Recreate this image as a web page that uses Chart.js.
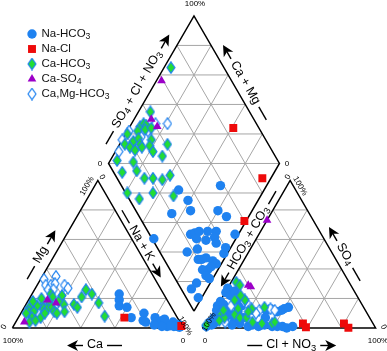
<!DOCTYPE html>
<html>
<head>
<meta charset="utf-8">
<script src="https://cdn.jsdelivr.net/npm/chart.js@4.4.0/dist/chart.umd.min.js"></script>
<style>
  html, body { margin: 0; padding: 0; background: #fff; }
  #wrap { width: 387px; height: 351px; }
</style>
</head>
<body>
<div id="wrap"><canvas id="piper" width="387" height="351"></canvas></div>
<script>
// cation triangle: [Ca %, Mg %]  (Na + K is the rest)
const cationNaHCO3 = [[26,23],[28,19],[30,15],[26,14],[27,7],[18,10],[21,5],[20,4],[13,7],[14,4],[10,5],[9,3],[6,2],[3.5,2],[3,1],[4,4],[9,1],[1.5,2.4],[8,6],[5,1],[1,1],[2,0.5],[7,1.5],[12,1],[16,2]];
const cationNaCl = [[31,7],[0.5,1.3]];
const cationCaHCO3 = [[66,23],[66,21],[60,22],[70,17],[75,15],[78,15],[83,14],[85,11],[82,11],[80,7],[85,7],[88,4],[84,5],[75,13],[73,13],[70,14],[70,11],[69,10],[62,16],[64,11],[56,16],[55,14],[49,21],[44,26],[42,23],[41,17],[42,8],[87,10],[76,10],[79,18],[73,20],[64,18]];
const cationCaSO4 = [[70,19],[66,17],[91,4]];
const cationCaMgHCO3 = [[65,33],[57,35],[66,29],[63,29],[60,30],[55,29],[54,27],[66,26],[63,26],[80,10]];

// anion triangle: [Cl + NO3 %, SO4 %]  (HCO3 + CO3 is the rest)
const anionNaHCO3 = [[0,27],[0.4,24],[4,22],[5,25],[0.3,18],[0,15],[3,16],[7,13],[3,11],[2,7],[6,10],[9,6],[11,9],[14,11],[15,5],[19,3],[25,1],[27,2],[31,1],[34,2],[39,1],[42,1],[45,1],[39,12],[40,13],[0.5,1],[3,2],[1,4],[4,3],[15,2],[19,7],[9,19],[14,15],[1,12],[30,12],[32,13],[42,14],[48,0],[51,1],[37,11],[32,7]];
const anionNaCl = [[56,3],[59,0.5],[80,3],[84,0.2]];
const anionCaHCO3 = [[3,31],[6,29],[8,19],[13,13],[13,9],[17,7],[21,7],[21,13],[28,14],[26,4],[32,3],[38,3],[5,9],[8,7],[6,5],[5,12],[14,19],[20,11],[10,22],[0,2],[39,4]];
const anionCaSO4 = [[11,29],[13,28],[0,73]];
const anionCaMgHCO3 = [[16,17],[26,12],[32,13],[5,10],[8,15],[14,18],[35,12],[25,10],[10,4]];

// diamond: [SO4 + Cl + NO3 %, Ca + Mg %]
const diamondNaHCO3 = [[32,50],[58,27],[34,41],[20,46],[32,36],[48,20],[51,13],[40,14],[50,2],[24,28],[27,26],[30,24],[26,23],[1,48],[16,24],[23,19],[37,2],[25,11],[20,15],[28,6],[29,3],[22,6],[19,9],[19,5],[20,2],[6,9],[7,2],[35,19],[31,17],[37,13],[36,10],[25,5],[11,8],[22,13],[40,3]];
const diamondNaCl = [[85,39],[85,5],[60,1]];
const diamondCaHCO3 = [[42,93],[31,94],[34,93],[35,91],[28,94],[33,90],[37,87],[21,99],[22,93],[26,91],[25,88],[16,97],[18,93],[20,89],[25,86],[33,83],[30,82],[41,72],[30,78],[34,71],[6,96],[15,86],[5,89],[14,81],[16,74],[21,69],[26,63],[32,60],[1,79],[6,70],[16,64],[27,51],[69,96]];
const diamondCaSO4 = [[40,90],[41,84],[59,97]];
const diamondCaMgHCO3 = [[48,79],[23,99],[16,100],[10,98],[20,93],[34,88],[41,86],[28,90]];

const gridSteps = [20, 40, 60, 80];

// layout of the three plots (in canvas units)
const SIDE = 176;
const H = SIDE * Math.sqrt(3) / 2;
const CAT0 = { x: 7, y: 333 };
const AN0 = { x: 205, y: 333 };
const DIA0 = { x: 194, y: 315.5 };
const FONT = '"Liberation Sans", Arial, sans-serif';

const cationXY = ([ca, mg]) => {
  const na = 100 - ca - mg;
  return { x: CAT0.x + SIDE * (na + mg / 2) / 100, y: CAT0.y - H * mg / 100 };
};
const anionXY = ([cl, so4]) => ({ x: AN0.x + SIDE * (cl + so4 / 2) / 100, y: AN0.y - H * so4 / 100 });
const diamondXY = ([a, c]) => ({ x: DIA0.x + (SIDE / 2) * (a - c) / 100, y: DIA0.y - H * (a + c) / 100 });

// grid + outlines
const gridColor = '#a6a6a6';
const lineSets = [];
const addLine = (pts, color, width, order) => lineSets.push({
  data: pts, showLine: true, pointRadius: 0, borderColor: color, borderWidth: width, fill: false, order
});

gridSteps.forEach(k => {
  addLine([cationXY([100 - k, k]), cationXY([0, k])], gridColor, 1, 100);
  addLine([cationXY([k, 0]), cationXY([k, 100 - k])], gridColor, 1, 100);
  addLine([cationXY([100 - k, 0]), cationXY([0, 100 - k])], gridColor, 1, 100);
  addLine([anionXY([0, k]), anionXY([100 - k, k])], gridColor, 1, 100);
  addLine([anionXY([k, 0]), anionXY([k, 100 - k])], gridColor, 1, 100);
  addLine([anionXY([100 - k, 0]), anionXY([0, 100 - k])], gridColor, 1, 100);
  addLine([diamondXY([k, 0]), diamondXY([k, 100])], gridColor, 1, 100);
  addLine([diamondXY([0, k]), diamondXY([100, k])], gridColor, 1, 100);
});
for (let s = 20; s < 200; s += 20) {
  const left = s <= 100 ? [0, s] : [s - 100, 100];
  const right = s <= 100 ? [s, 0] : [100, s - 100];
  addLine([diamondXY(left), diamondXY(right)], gridColor, 1, 100);
}
addLine([[100, 0], [0, 100], [0, 0], [100, 0]].map(cationXY), '#000', 1.5, 90);
addLine([[0, 0], [0, 100], [100, 0], [0, 0]].map(anionXY), '#000', 1.5, 90);
addLine([[0, 0], [0, 100], [100, 100], [100, 0], [0, 0]].map(diamondXY), '#000', 1.5, 90);

// diamond markers (taller than wide)
function diamondMark(fill) {
  const c = document.createElement('canvas');
  c.width = 10; c.height = 13;
  const g = c.getContext('2d');
  g.beginPath();
  g.moveTo(5, 0.8); g.lineTo(9, 6.5); g.lineTo(5, 12.2); g.lineTo(1, 6.5); g.closePath();
  g.fillStyle = fill; g.fill();
  g.strokeStyle = '#1f82f0'; g.lineWidth = 1.2; g.stroke();
  return c;
}

const series = [
  { label: 'Na-HCO3', cation: cationNaHCO3, anion: anionNaHCO3, diamond: diamondNaHCO3,
    pointStyle: 'circle', radius: 4.7, color: '#1f82f0', order: 5 },
  { label: 'Na-Cl', cation: cationNaCl, anion: anionNaCl, diamond: diamondNaCl,
    pointStyle: 'rect', radius: 5.6, color: '#ee0a0a', order: 4 },
  { label: 'Ca-HCO3', cation: cationCaHCO3, anion: anionCaHCO3, diamond: diamondCaHCO3,
    pointStyle: diamondMark('#22dd33'), radius: 5, color: '#22dd33', order: 2 },
  { label: 'Ca-SO4', cation: cationCaSO4, anion: anionCaSO4, diamond: diamondCaSO4,
    pointStyle: 'triangle', radius: 5, color: '#9c00c8', order: 1 },
  { label: 'Ca,Mg-HCO3', cation: cationCaMgHCO3, anion: anionCaMgHCO3, diamond: diamondCaMgHCO3,
    pointStyle: diamondMark('#ffffff'), radius: 5, color: '#ffffff', order: 3 }
];

const pointSets = series.map(s => ({
  label: s.label,
  data: [...s.cation.map(cationXY), ...s.anion.map(anionXY), ...s.diamond.map(diamondXY)],
  pointStyle: s.pointStyle,
  pointRadius: s.radius,
  backgroundColor: s.color,
  borderColor: s.color,
  borderWidth: 0,
  order: s.order
}));

// text helpers: digits in chemical names are subscripts
function chemRuns(str) {
  const runs = [];
  for (const ch of str) {
    const sub = /[0-9]/.test(ch);
    if (runs.length && runs[runs.length - 1].sub === sub) runs[runs.length - 1].t += ch;
    else runs.push({ t: ch, sub });
  }
  return runs;
}
function chemWidth(ctx, str, size) {
  let w = 0;
  for (const r of chemRuns(str)) {
    ctx.font = (r.sub ? size * 0.75 : size) + 'px ' + FONT;
    w += ctx.measureText(r.t).width;
  }
  return w;
}
function chemText(ctx, str, x, y, size) {
  ctx.textAlign = 'left';
  ctx.textBaseline = 'middle';
  for (const r of chemRuns(str)) {
    ctx.font = (r.sub ? size * 0.75 : size) + 'px ' + FONT;
    ctx.fillText(r.t, x, r.sub ? y + size * 0.25 : y);
    x += ctx.measureText(r.t).width;
  }
}
function edgePos(p0, p1, t, off) {
  const dx = p1.x - p0.x, dy = p1.y - p0.y, len = Math.hypot(dx, dy);
  return { x: p0.x + dx * t + dy / len * off, y: p0.y + dy * t - dx / len * off };
}
function axisLabel(ctx, pos, angle, str, arrowAtEnd) {
  const size = 12.5;
  ctx.save();
  ctx.translate(pos.x, pos.y);
  ctx.rotate(angle);
  ctx.fillStyle = '#000';
  ctx.strokeStyle = '#000';
  ctx.lineWidth = 1.4;
  const w = chemWidth(ctx, str, size);
  chemText(ctx, str, -w / 2, 0, size);
  const g = 4, dash = 15, arr = 16, s = arrowAtEnd ? 1 : -1;
  ctx.beginPath();
  ctx.moveTo(-s * (w / 2 + g), 0.5);
  ctx.lineTo(-s * (w / 2 + g + dash), 0.5);
  ctx.stroke();
  const a0 = s * (w / 2 + g), a1 = s * (w / 2 + g + arr);
  ctx.beginPath();
  ctx.moveTo(a0, 0.5);
  ctx.lineTo(a1 - s * 6, 0.5);
  ctx.stroke();
  ctx.beginPath();
  ctx.moveTo(a1, 0.5);
  ctx.lineTo(a1 - s * 11, -5);
  ctx.lineTo(a1 - s * 8, 0.5);
  ctx.lineTo(a1 - s * 11, 6);
  ctx.closePath();
  ctx.fill();
  ctx.restore();
}
function tick(ctx, str, x, y, angle) {
  ctx.save();
  ctx.translate(x, y);
  ctx.rotate(angle || 0);
  ctx.font = '8px ' + FONT;
  ctx.fillStyle = '#000';
  ctx.textAlign = 'center';
  ctx.textBaseline = 'middle';
  ctx.fillText(str, 0, 0);
  ctx.restore();
}

const labelPlugin = {
  id: 'piperLabels',
  afterDraw(chart) {
    const ctx = chart.ctx;
    const up = -Math.PI / 3, down = Math.PI / 3;
    const cBL = cationXY([100, 0]), cT = cationXY([0, 100]), cBR = cationXY([0, 0]);
    const aBL = anionXY([0, 0]), aT = anionXY([0, 100]), aBR = anionXY([100, 0]);
    const dL = diamondXY([0, 100]), dT = diamondXY([100, 100]), dR = diamondXY([100, 0]);

    axisLabel(ctx, edgePos(cBL, cT, 0.48, 10), up, 'Mg', true);
    axisLabel(ctx, edgePos(cT, cBR, 0.44, 9), down, 'Na + K', true);
    axisLabel(ctx, edgePos(cBL, cBR, 0.5, -12), 0, 'Ca', false);
    axisLabel(ctx, edgePos(aBL, aT, 0.59, 10), up, 'HCO3 + CO3', false);
    axisLabel(ctx, edgePos(aT, aBR, 0.51, 8.5), down, 'SO4', false);
    axisLabel(ctx, edgePos(aBL, aBR, 0.49, -12), 0, 'Cl + NO3', true);
    axisLabel(ctx, edgePos(dL, dT, 0.45, 10), up, 'SO4 + Cl + NO3', true);
    axisLabel(ctx, edgePos(dT, dR, 0.5, 8.5), down, 'Ca + Mg', false);

    tick(ctx, '100%', cT.x - 8, cT.y + 5.5, up);
    tick(ctx, '0', cT.x + 7, cT.y - 3.6, down);
    tick(ctx, '100%', cBL.x + 6, cBL.y + 8);
    tick(ctx, '0', cBL.x - 3, cBL.y - 6, up);
    tick(ctx, '100%', cBR.x + 2, cBR.y - 7, down);
    tick(ctx, '0', cBR.x, cBR.y + 8);
    tick(ctx, '100%', aBL.x + 4, aBL.y - 11, up);
    tick(ctx, '0', aBL.x, aBL.y + 8);
    tick(ctx, '0', aT.x - 5, aT.y - 3.6, up);
    tick(ctx, '100%', aT.x + 7, aT.y + 5.5, down);
    tick(ctx, '0', aBR.x + 2.5, aBR.y - 6, down);
    tick(ctx, '100%', aBR.x - 3, aBR.y + 8);
    tick(ctx, '100%', dT.x + 1, dT.y - 6.5);
    tick(ctx, '0', dL.x - 6, dL.y + 1);
    tick(ctx, '0', dR.x + 5, dR.y + 1);

    // legend
    const pts = chart.data.datasets.filter(d => d.label);
    pts.forEach((d, i) => {
      const x = 32, y = 34 + i * 15;
      ctx.save();
      ctx.fillStyle = d.backgroundColor;
      ctx.strokeStyle = d.borderColor;
      Chart.helpers.drawPoint(ctx, { pointStyle: d.pointStyle, radius: d.pointRadius, borderWidth: 0, rotation: 0 }, x, y);
      ctx.restore();
      ctx.fillStyle = '#111';
      chemText(ctx, d.label, 41.5, y, 11.5);
    });
  }
};

new Chart(document.getElementById('piper'), {
  type: 'scatter',
  data: { datasets: [...lineSets, ...pointSets] },
  options: {
    responsive: false,
    animation: false,
    events: [],
    layout: { padding: 0 },
    scales: {
      x: { type: 'linear', min: 0, max: 387, display: false },
      y: { type: 'linear', min: 0, max: 351, reverse: true, display: false }
    },
    plugins: { legend: { display: false }, tooltip: { enabled: false } }
  },
  plugins: [labelPlugin]
});
</script>
</body>
</html>
